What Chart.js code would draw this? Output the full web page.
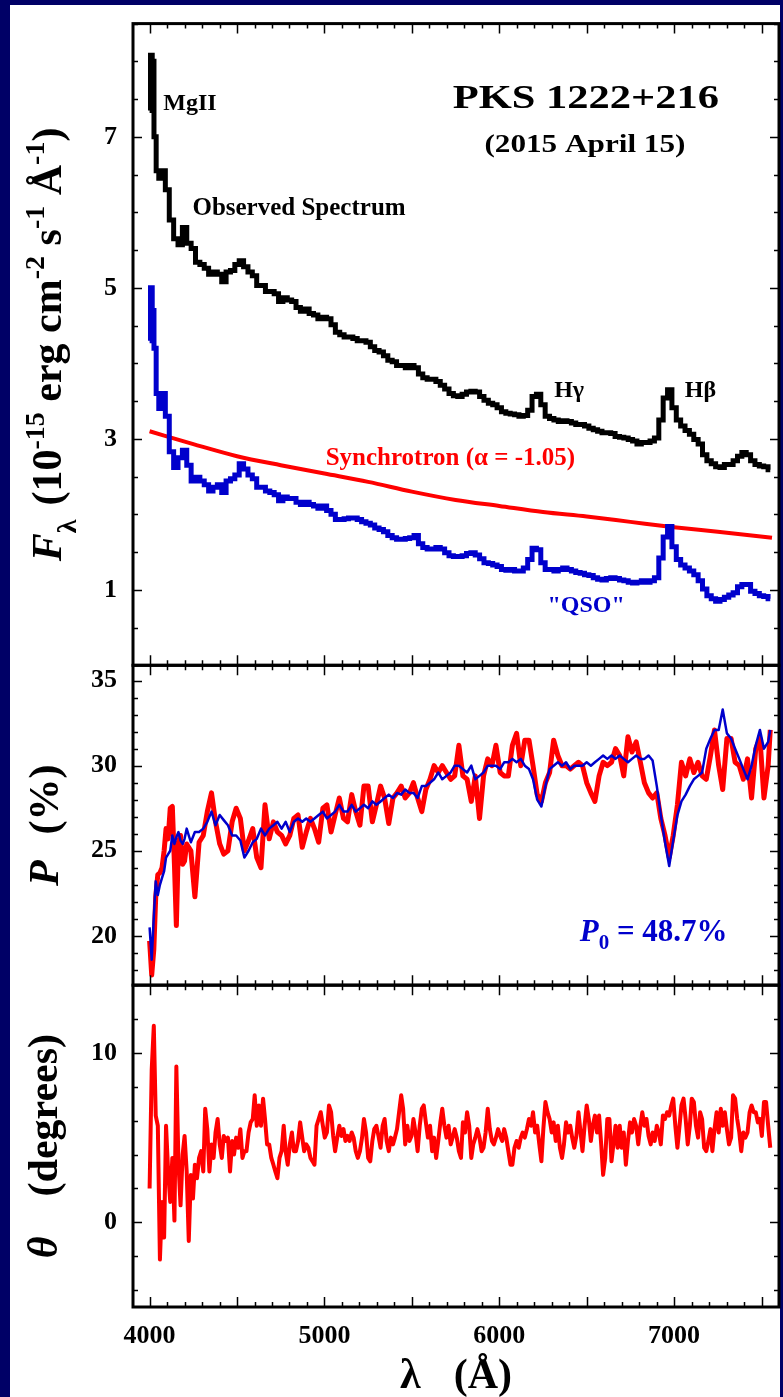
<!DOCTYPE html>
<html>
<head>
<meta charset="utf-8">
<script src="https://cdn.jsdelivr.net/npm/chart.js@4.4.0/dist/chart.umd.min.js"></script>
<style>
  html, body { margin: 0; padding: 0; background: #000066; }
  #wrap { position: relative; width: 783px; height: 1397px; }
  canvas { display: block; }
</style>
</head>
<body>
<div id="wrap"><canvas id="chart" width="783" height="1397"></canvas></div>
<script>
// ---- data ----
const waveTicks = [4000, 5000, 6000, 7000];
const fluxTicks = [1, 3, 5, 7];
const polTicks = [20, 25, 30, 35];
const thetaTicks = [0, 10];

// top panel: observed spectrum and "QSO" component (10^-15 erg/cm2/s/A)
const waveTop = [4000, 4010, 4020, 4030, 4045, 4060, 4080, 4100,
  4125, 4150, 4175, 4200, 4225, 4250, 4275, 4300, 4325, 4350, 4375, 4400, 4425, 4450, 4475, 4500,
  4525, 4550, 4575, 4600, 4625, 4650, 4675, 4700, 4725, 4750, 4775, 4800, 4825, 4850, 4875, 4900,
  4925, 4950, 4975, 5000, 5025, 5050, 5075, 5100, 5125, 5150, 5175, 5200, 5225, 5250, 5275, 5300,
  5325, 5350, 5375, 5400, 5425, 5450, 5475, 5500, 5525, 5550, 5575, 5600, 5625, 5650, 5675, 5700,
  5725, 5750, 5775, 5800, 5825, 5850, 5875, 5900, 5925, 5950, 5975, 6000, 6025, 6050, 6075, 6100,
  6125, 6150, 6175, 6200, 6225, 6250, 6275, 6300, 6325, 6350, 6375, 6400, 6425, 6450, 6475, 6500,
  6525, 6550, 6575, 6600, 6625, 6650, 6675, 6700, 6725, 6750, 6775, 6800, 6825, 6850, 6875, 6900,
  6925, 6950, 6975, 7000, 7025, 7050, 7075, 7100, 7125, 7150, 7175, 7200, 7225, 7250, 7275, 7300,
  7325, 7350, 7375, 7400, 7425, 7450, 7475, 7500, 7525, 7550];
const fluxObs = [7.35, 8.08, 8.0, 7.0, 6.55, 6.45, 6.55, 6.3,
  5.90, 5.65, 5.57, 5.80, 5.59, 5.52, 5.34, 5.31, 5.26, 5.18, 5.21, 5.18, 5.08, 5.21, 5.23, 5.31,
  5.36, 5.28, 5.21, 5.16, 5.03, 5.03, 4.95, 4.95, 4.92, 4.82, 4.87, 4.84, 4.82, 4.74, 4.69, 4.72,
  4.66, 4.64, 4.59, 4.61, 4.59, 4.51, 4.41, 4.38, 4.35, 4.35, 4.33, 4.30, 4.30, 4.28, 4.22, 4.17,
  4.15, 4.10, 4.04, 4.02, 3.97, 3.97, 3.94, 3.97, 3.94, 3.86, 3.81, 3.79, 3.79, 3.76, 3.71, 3.66,
  3.60, 3.57, 3.56, 3.59, 3.62, 3.63, 3.62, 3.56, 3.51, 3.47, 3.45, 3.41, 3.36, 3.34, 3.33, 3.32,
  3.30, 3.31, 3.38, 3.56, 3.59, 3.45, 3.30, 3.27, 3.25, 3.23, 3.24, 3.23, 3.21, 3.19, 3.19, 3.17,
  3.14, 3.12, 3.10, 3.08, 3.08, 3.07, 3.03, 3.02, 3.01, 2.99, 2.97, 2.93, 2.95, 2.95, 2.97, 3.01,
  3.25, 3.54, 3.65, 3.41, 3.25, 3.17, 3.11, 3.06, 2.99, 2.93, 2.79, 2.71, 2.67, 2.63, 2.62, 2.66,
  2.66, 2.71, 2.77, 2.82, 2.79, 2.71, 2.66, 2.64, 2.63, 2.59];
const fluxQso = [4.3, 5.0, 4.7, 4.2, 3.6, 3.4, 3.6, 3.3,
  2.83, 2.62, 2.75, 2.85, 2.65, 2.44, 2.49, 2.44, 2.39, 2.31, 2.36, 2.39, 2.29, 2.44, 2.47, 2.52,
  2.67, 2.60, 2.52, 2.47, 2.36, 2.36, 2.31, 2.29, 2.26, 2.18, 2.23, 2.21, 2.21, 2.16, 2.13, 2.16,
  2.13, 2.11, 2.08, 2.11, 2.05, 2.00, 1.93, 1.93, 1.94, 1.95, 1.95, 1.93, 1.90, 1.88, 1.86, 1.82,
  1.80, 1.77, 1.72, 1.69, 1.67, 1.67, 1.68, 1.69, 1.72, 1.61, 1.56, 1.54, 1.54, 1.56, 1.54, 1.49,
  1.45, 1.44, 1.44, 1.45, 1.48, 1.49, 1.46, 1.41, 1.36, 1.35, 1.33, 1.31, 1.27, 1.26, 1.27, 1.25,
  1.25, 1.29, 1.40, 1.55, 1.53, 1.36, 1.27, 1.27, 1.25, 1.27, 1.29, 1.27, 1.25, 1.23, 1.22, 1.20,
  1.19, 1.16, 1.14, 1.13, 1.15, 1.16, 1.15, 1.13, 1.12, 1.10, 1.09, 1.10, 1.12, 1.10, 1.12, 1.16,
  1.42, 1.70, 1.84, 1.57, 1.40, 1.33, 1.29, 1.25, 1.20, 1.12, 1.01, 0.92, 0.88, 0.85, 0.87, 0.90,
  0.93, 0.96, 1.04, 1.07, 1.07, 0.98, 0.95, 0.92, 0.91, 0.88];

// synchrotron component (alpha = -1.05)
const waveSync = [4000, 4250, 4500, 4750, 5000, 5250, 5500, 5750, 6000, 6250, 6500, 6750, 7000, 7250, 7560];
const fluxSync = [3.10, 2.93, 2.77, 2.65, 2.54, 2.43, 2.30, 2.19, 2.11, 2.03, 1.97, 1.90, 1.83, 1.77, 1.69];

// middle panel: polarization (%)
const wavePol = [4000, 4012, 4024, 4035, 4047, 4059, 4071, 4083, 4094, 4106, 4118, 4130, 4142, 4153,
  4165, 4177, 4189, 4200, 4212, 4236, 4259, 4283, 4307, 4330, 4354, 4377, 4401, 4424, 4448, 4472,
  4495, 4519, 4542, 4566, 4590, 4613, 4637, 4660, 4684, 4708, 4731, 4755, 4778, 4802, 4825, 4849,
  4873, 4896, 4920, 4943, 4967, 4991, 5014, 5038, 5061, 5085, 5109, 5132, 5156, 5179, 5203, 5226,
  5250, 5274, 5297, 5321, 5344, 5368, 5392, 5415, 5439, 5462, 5486, 5509, 5533, 5557, 5580, 5604,
  5627, 5651, 5674, 5698, 5722, 5745, 5769, 5792, 5816, 5840, 5863, 5887, 5910, 5934, 5958, 5981,
  6005, 6028, 6052, 6075, 6099, 6123, 6146, 6170, 6193, 6217, 6241, 6264, 6288, 6311, 6335, 6359,
  6382, 6406, 6429, 6453, 6476, 6500, 6524, 6547, 6571, 6594, 6618, 6642, 6665, 6689, 6712, 6736,
  6759, 6783, 6807, 6830, 6854, 6877, 6901, 6924, 6948, 6972, 6995, 7019, 7042, 7066, 7090, 7113,
  7137, 7160, 7184, 7208, 7231, 7255, 7278, 7302, 7326, 7349, 7373, 7396, 7420, 7443, 7467, 7491,
  7514, 7538, 7550];
const polObs = [19.7, 17.7, 19.2, 22.3, 23.6, 23.7, 24.0, 25.0, 26.3, 25.7, 27.5, 27.6, 24.2, 20.6,
  25.5, 25.9, 24.2, 24.4, 25.4, 25.0, 22.3, 25.5, 25.9, 27.3, 28.4, 26.7, 25.4, 24.8, 25.0, 26.7,
  27.5, 26.9, 25.0, 25.6, 26.3, 24.6, 24.0, 27.7, 25.7, 26.7, 26.1, 25.9, 25.4, 25.9, 26.9, 27.1,
  25.2, 26.1, 26.9, 26.3, 25.5, 27.5, 27.7, 26.1, 27.1, 28.1, 26.9, 26.7, 28.3, 27.3, 26.5, 28.8,
  28.8, 26.7, 27.7, 28.8, 28.1, 26.6, 28.1, 28.4, 28.8, 28.1, 28.4, 29.0, 28.1, 27.3, 28.6, 29.2,
  30.0, 29.6, 30.0, 29.6, 29.2, 29.4, 31.2, 29.4, 29.2, 27.9, 29.4, 26.9, 29.4, 30.4, 30.0, 31.2,
  29.6, 29.4, 29.4, 31.2, 31.9, 30.0, 31.5, 31.5, 30.0, 28.3, 27.9, 29.0, 29.6, 31.5, 30.6, 30.0,
  30.0, 29.8, 30.0, 30.2, 30.0, 29.0, 28.4, 27.9, 29.4, 30.2, 30.0, 30.2, 31.0, 30.6, 29.4, 31.7,
  30.8, 31.4, 30.2, 29.0, 28.4, 28.1, 28.4, 26.9, 25.9, 24.6, 25.9, 27.7, 30.2, 29.4, 30.4, 29.6,
  30.2, 29.4, 29.2, 30.6, 32.1, 30.0, 28.6, 31.6, 31.6, 30.2, 30.0, 29.2, 30.4, 28.1, 31.0, 31.6,
  28.1, 30.0, 32.1];
const polQso = [20.5, 18.6, 21.1, 23.2, 22.4, 23.0, 23.4, 23.8, 24.6, 24.8, 25.0, 25.9, 25.4, 25.8,
  26.1, 25.6, 25.4, 25.7, 26.3, 25.5, 26.1, 26.1, 26.3, 26.7, 27.3, 26.5, 27.1, 26.8, 26.5, 25.9,
  25.9, 25.6, 24.6, 25.0, 25.5, 25.7, 26.3, 25.9, 26.3, 26.5, 26.7, 26.3, 26.7, 26.1, 26.7, 26.9,
  26.7, 26.9, 26.7, 26.9, 27.1, 27.3, 26.9, 27.1, 27.3, 27.7, 27.3, 27.3, 27.7, 27.3, 27.5, 27.7,
  27.5, 27.9, 27.7, 27.9, 28.1, 28.3, 28.1, 28.4, 28.3, 28.6, 28.4, 28.4, 28.1, 28.8, 28.8, 29.0,
  29.2, 29.6, 29.2, 29.4, 29.6, 30.0, 30.0, 29.8, 29.6, 30.0, 29.2, 29.4, 29.6, 30.0, 30.0, 30.0,
  29.8, 30.2, 30.2, 30.4, 30.2, 30.4, 30.0, 29.8, 29.2, 28.0, 27.6, 28.8, 29.8, 30.0, 30.2, 30.0,
  30.2, 29.8, 30.0, 30.0, 30.0, 30.2, 30.0, 30.2, 30.4, 30.6, 30.4, 30.6, 30.4, 30.6, 30.4, 30.2,
  30.4, 30.6, 30.4, 30.4, 30.6, 30.3, 28.8, 27.1, 25.5, 24.1, 25.6, 27.1, 27.9, 28.3, 28.8, 29.2,
  29.4, 29.6, 31.0, 31.6, 32.1, 32.1, 33.3, 31.9, 31.6, 31.0, 30.4, 29.8, 29.2, 30.0, 31.2, 32.1,
  31.0, 31.4, 32.1];

// bottom panel: position angle (degrees)
const waveTheta = [4000, 4012, 4024, 4035, 4047, 4059, 4071, 4083, 4094, 4106,
  4118, 4130, 4142, 4153, 4165, 4177, 4189, 4200, 4212, 4224,
  4236, 4248, 4259, 4271, 4283, 4295, 4307, 4318, 4330, 4342,
  4354, 4366, 4377, 4389, 4401, 4413, 4424, 4436, 4448, 4460,
  4472, 4483, 4495, 4507, 4519, 4531, 4542, 4554, 4566, 4578,
  4590, 4601, 4613, 4625, 4637, 4649, 4660, 4672, 4684, 4696,
  4708, 4719, 4731, 4743, 4755, 4767, 4778, 4790, 4802, 4814,
  4825, 4837, 4849, 4861, 4873, 4884, 4896, 4908, 4920, 4932,
  4943, 4955, 4967, 4979, 4991, 5002, 5014, 5026, 5038, 5050,
  5061, 5073, 5085, 5097, 5109, 5120, 5132, 5144, 5156, 5167,
  5179, 5191, 5203, 5215, 5226, 5238, 5250, 5262, 5274, 5285,
  5297, 5309, 5321, 5333, 5344, 5356, 5368, 5380, 5392, 5403,
  5415, 5427, 5439, 5450, 5462, 5474, 5486, 5498, 5509, 5521,
  5533, 5545, 5557, 5568, 5580, 5592, 5604, 5616, 5627, 5639,
  5651, 5663, 5674, 5686, 5698, 5710, 5722, 5733, 5745, 5757,
  5769, 5781, 5792, 5804, 5816, 5828, 5840, 5851, 5863, 5875,
  5887, 5899, 5910, 5922, 5934, 5946, 5958, 5969, 5981, 5993,
  6005, 6017, 6028, 6040, 6052, 6064, 6075, 6087, 6099, 6111,
  6123, 6134, 6146, 6158, 6170, 6182, 6193, 6205, 6217, 6229,
  6241, 6252, 6264, 6276, 6288, 6300, 6311, 6323, 6335, 6347,
  6359, 6370, 6382, 6394, 6406, 6417, 6429, 6441, 6453, 6465,
  6476, 6488, 6500, 6512, 6524, 6535, 6547, 6559, 6571, 6583,
  6594, 6606, 6618, 6630, 6642, 6653, 6665, 6677, 6689, 6700,
  6712, 6724, 6736, 6748, 6759, 6771, 6783, 6795, 6807, 6818,
  6830, 6842, 6854, 6866, 6877, 6889, 6901, 6913, 6924, 6936,
  6948, 6960, 6972, 6984, 6995, 7007, 7019, 7031, 7042, 7054,
  7066, 7078, 7090, 7101, 7113, 7125, 7137, 7149, 7160, 7172,
  7184, 7196, 7208, 7219, 7231, 7243, 7255, 7267, 7278, 7290,
  7302, 7314, 7326, 7337, 7349, 7361, 7373, 7384, 7396, 7408,
  7420, 7432, 7443, 7455, 7467, 7479, 7491, 7502, 7514, 7526,
  7538, 7550];
const theta = [2.0, 9.0, 11.6, 6.3, 5.7, -2.2, 1.2, -0.9, 5.7, 3.0,
  1.2, 3.8, 0.1, 9.2, 3.5, 1.0, 4.0, 5.1, 3.0, -1.1,
  2.8, 1.4, 3.4, 2.6, 3.8, 4.2, 3.0, 6.7, 5.5, 3.0,
  4.6, 3.8, 5.3, 6.1, 4.6, 3.8, 5.1, 4.8, 5.0, 3.0,
  4.8, 4.0, 5.0, 4.4, 5.5, 3.8, 4.2, 4.2, 5.3, 5.9,
  6.1, 7.5, 5.7, 6.9, 5.7, 7.3, 6.1, 4.6, 4.6, 3.8,
  3.4, 3.0, 2.6, 3.8, 4.2, 5.7, 4.2, 3.4, 4.6, 5.3,
  4.2, 4.2, 4.8, 5.9, 5.0, 4.2, 4.6, 4.4, 3.8, 3.6,
  3.4, 5.7, 6.1, 6.5, 5.7, 5.0, 5.3, 6.9, 6.5, 5.1,
  4.2, 5.0, 5.7, 5.1, 5.5, 4.8, 5.1, 4.8, 5.3, 5.0,
  4.2, 3.8, 4.2, 5.0, 6.1, 5.3, 3.8, 3.6, 4.8, 5.5,
  5.7, 5.1, 4.4, 5.7, 6.1, 4.8, 4.2, 5.0, 4.6, 5.0,
  5.5, 6.5, 7.5, 6.7, 4.6, 5.7, 4.8, 5.1, 6.1, 5.3,
  4.2, 5.7, 6.7, 6.9, 5.9, 5.0, 5.7, 4.2, 5.0, 3.8,
  4.8, 5.9, 6.7, 5.7, 5.0, 5.7, 4.6, 5.0, 5.5, 5.0,
  4.2, 3.8, 5.9, 5.3, 6.5, 5.7, 3.8, 4.6, 5.0, 5.5,
  5.0, 4.2, 4.4, 5.3, 6.7, 5.5, 4.8, 4.6, 5.0, 5.5,
  5.1, 4.8, 5.5, 5.0, 4.2, 3.4, 3.4, 4.4, 4.8, 4.4,
  5.0, 5.3, 5.0, 5.5, 6.1, 5.7, 6.5, 5.3, 5.7, 4.6,
  3.6, 5.5, 7.1, 6.5, 6.1, 5.3, 5.9, 4.8, 5.7, 4.4,
  3.8, 4.6, 5.9, 5.3, 5.7, 5.0, 4.4, 5.1, 6.5, 5.3,
  4.2, 5.7, 6.9, 6.1, 4.8, 5.7, 6.3, 5.3, 6.3, 4.6,
  2.8, 3.8, 6.1, 6.1, 3.6, 4.6, 5.7, 4.4, 5.7, 4.4,
  5.3, 3.4, 4.8, 5.9, 5.3, 6.1, 5.7, 4.6, 5.7, 6.5,
  5.7, 6.1, 5.1, 4.6, 5.3, 4.8, 5.7, 5.3, 4.6, 6.3,
  6.1, 6.5, 6.3, 6.9, 7.3, 5.7, 4.4, 5.7, 6.9, 7.3,
  6.1, 4.6, 5.7, 7.3, 7.1, 5.7, 5.0, 6.5, 6.1, 4.4,
  4.2, 4.8, 5.5, 4.2, 5.5, 6.5, 5.3, 6.7, 5.7, 6.5,
  5.5, 4.6, 5.0, 7.5, 7.3, 6.1, 5.3, 4.2, 5.3, 5.0,
  5.3, 6.5, 6.9, 6.5, 6.5, 5.9, 6.1, 5.1, 7.1, 7.1,
  5.7, 4.4];

// ---- styling ----
const SERIF = '"Liberation Serif", "Times New Roman", serif';
const RED = '#ff0000';
const BLUE = '#0000cc';
const font = (size, style) => (style || 'bold') + ' ' + size + 'px ' + SERIF;

const pairs = (xs, ys) => xs.map((x, i) => ({ x: x, y: ys[i] }));

// text placed in data units of the panel it belongs to
const notes = [
  { axis: 'yF', wave: 4078, val: 7.36, color: '#000', pieces: [{ text: 'MgII', font: font(24) }] },
  { axis: 'yF', wave: 4245, val: 5.97, color: '#000', pieces: [{ text: 'Observed Spectrum', font: font(25) }] },
  { axis: 'yF', wave: 6495, val: 7.38, color: '#000', align: 'center', sx: 1.25, pieces: [{ text: 'PKS 1222+216', font: font(34) }] },
  { axis: 'yF', wave: 6490, val: 6.80, color: '#000', align: 'center', sx: 1.2, pieces: [{ text: '(2015 April 15)', font: font(26) }] },
  { axis: 'yF', wave: 6314, val: 3.55, color: '#000', pieces: [{ text: 'Hγ', font: font(24) }] },
  { axis: 'yF', wave: 7061, val: 3.55, color: '#000', pieces: [{ text: 'Hβ', font: font(24) }] },
  { axis: 'yF', wave: 5007, val: 2.65, color: RED, pieces: [{ text: 'Synchrotron (α = -1.05)', font: font(25) }] },
  { axis: 'yF', wave: 6276, val: 0.70, color: BLUE, pieces: [{ text: '"QSO"', font: font(24) }] },
  { axis: 'yP', wave: 6460, val: 19.67, color: BLUE, pieces: [
    { text: 'P', font: font(31, 'italic bold') },
    { text: '0', font: font(21), dy: 8 },
    { text: ' = 48.7%', font: font(31) }
  ] }
];

function drawPieces(ctx, pieces, x, y, opts) {
  ctx.save();
  ctx.translate(x, y);
  if (opts.rotate) ctx.rotate(-Math.PI / 2);
  if (opts.sx) ctx.scale(opts.sx, 1);
  let total = 0;
  pieces.forEach(p => { ctx.font = p.font; total += (p.gap || 0) + ctx.measureText(p.text).width; });
  let cx = opts.align === 'center' ? -total / 2 : 0;
  ctx.fillStyle = opts.color || '#000';
  ctx.textBaseline = 'alphabetic';
  ctx.textAlign = 'left';
  pieces.forEach(p => {
    ctx.font = p.font;
    cx += p.gap || 0;
    ctx.fillText(p.text, cx, p.dy || 0);
    cx += ctx.measureText(p.text).width;
  });
  ctx.restore();
}

const pageBackground = {
  id: 'pageBackground',
  beforeDraw(chart) {
    const ctx = chart.ctx;
    ctx.save();
    ctx.fillStyle = '#ffffff';
    ctx.fillRect(10, 5, 770, chart.height - 5);
    ctx.restore();
  }
};

// frame, inward ticks on all four sides, annotations and axis titles
const decorations = {
  id: 'decorations',
  afterDatasetsDraw(chart) {
    const { ctx, scales, chartArea } = chart;
    const xs = scales.x;
    const left = chartArea.left;
    const right = chartArea.right;
    const panels = [
      { s: scales.yF, minor: 0.5, major: fluxTicks },
      { s: scales.yP, minor: 1, major: polTicks },
      { s: scales.yT, minor: 2, major: thetaTicks }
    ];

    ctx.save();
    ctx.strokeStyle = '#000';
    ctx.lineWidth = 1.5;
    ctx.beginPath();
    panels.forEach(({ s, minor, major }) => {
      for (let w = 4000; w <= 7500; w += 100) {
        const px = Math.round(xs.getPixelForValue(w)) + 0.5;
        const len = w % 500 === 0 ? 10 : 5;
        ctx.moveTo(px, s.top); ctx.lineTo(px, s.top + len);
        ctx.moveTo(px, s.bottom); ctx.lineTo(px, s.bottom - len);
      }
      for (let v = Math.ceil(s.min / minor) * minor; v <= s.max; v += minor) {
        const py = Math.round(s.getPixelForValue(v)) + 0.5;
        const len = major.includes(v) ? 9 : 5;
        ctx.moveTo(left, py); ctx.lineTo(left + len, py);
        ctx.moveTo(right, py); ctx.lineTo(right - len, py);
      }
    });
    ctx.stroke();

    ctx.lineWidth = 3;
    panels.forEach(({ s }) => {
      ctx.strokeRect(left, s.top, right - left, s.bottom - s.top);
    });
    ctx.restore();

    notes.forEach(n => {
      drawPieces(ctx, n.pieces, xs.getPixelForValue(n.wave), scales[n.axis].getPixelForValue(n.val),
        { align: n.align, sx: n.sx, color: n.color });
    });

    // axis titles
    const mid = s => (s.top + s.bottom) / 2;
    drawPieces(ctx, [
      { text: 'F', font: font(42, 'italic bold') },
      { text: 'λ', font: font(28), dy: 15 },
      { text: '(10', font: font(42), gap: 14 },
      { text: '-15', font: font(28), dy: -17 },
      { text: ' erg cm', font: font(42) },
      { text: '-2', font: font(28), dy: -17 },
      { text: ' s', font: font(42) },
      { text: '-1', font: font(28), dy: -17 },
      { text: ' Å', font: font(42) },
      { text: '-1', font: font(28), dy: -17 },
      { text: ')', font: font(42) }
    ], 61, mid(scales.yF), { rotate: true, align: 'center' });
    drawPieces(ctx, [
      { text: 'P', font: font(42, 'italic bold') },
      { text: '(%)', font: font(42), gap: 26 }
    ], 58, mid(scales.yP), { rotate: true, align: 'center' });
    drawPieces(ctx, [
      { text: 'θ', font: font(42, 'italic bold') },
      { text: '(degrees)', font: font(42), gap: 40 }
    ], 57, mid(scales.yT), { rotate: true, align: 'center' });
    drawPieces(ctx, [
      { text: 'λ', font: font(42) },
      { text: '(Å)', font: font(42), gap: 33 }
    ], (left + right) / 2, 1388, { align: 'center' });
  }
};

const tickFont = { family: SERIF, size: 26, weight: 'bold' };

const yAxis = (min, max, weight, ticks) => ({
  type: 'linear',
  position: 'left',
  stack: 'panels',
  stackWeight: weight,
  min: min,
  max: max,
  grid: { display: false },
  border: { display: false },
  ticks: { color: '#000', font: tickFont, padding: 8, callback: v => String(v) },
  afterBuildTicks: scale => { scale.ticks = ticks.map(v => ({ value: v })); },
  afterFit: scale => { scale.width = 133; }
});

new Chart(document.getElementById('chart'), {
  type: 'line',
  data: {
    datasets: [
      { label: 'QSO', yAxisID: 'yF', data: pairs(waveTop, fluxQso), borderColor: BLUE, borderWidth: 5, stepped: 'middle' },
      { label: 'Synchrotron', yAxisID: 'yF', data: pairs(waveSync, fluxSync), borderColor: RED, borderWidth: 4, cubicInterpolationMode: 'monotone' },
      { label: 'Observed', yAxisID: 'yF', data: pairs(waveTop, fluxObs), borderColor: '#000', borderWidth: 5, stepped: 'middle' },
      { label: 'P QSO', yAxisID: 'yP', data: pairs(wavePol, polQso), borderColor: BLUE, borderWidth: 2.5, borderJoinStyle: 'round' },
      { label: 'P observed', yAxisID: 'yP', data: pairs(wavePol, polObs), borderColor: RED, borderWidth: 5, borderJoinStyle: 'round' },
      { label: 'theta', yAxisID: 'yT', data: pairs(waveTheta, theta), borderColor: RED, borderWidth: 4, borderJoinStyle: 'round' }
    ]
  },
  options: {
    responsive: false,
    animation: false,
    devicePixelRatio: 1,
    layout: { padding: { top: 11, right: 4, left: 0, bottom: 0 } },
    elements: { point: { radius: 0 }, line: { fill: false } },
    plugins: { legend: { display: false }, tooltip: { enabled: false } },
    scales: {
      x: {
        type: 'linear',
        position: 'bottom',
        min: 3905,
        max: 7600,
        grid: { display: false },
        border: { display: false },
        ticks: { color: '#000', font: tickFont, padding: 6, autoSkip: false, maxRotation: 0, callback: v => String(v) },
        afterBuildTicks: scale => { scale.ticks = waveTicks.map(v => ({ value: v })); },
        afterFit: scale => { scale.height = 90; }
      },
      yT: yAxis(-5, 14, 325, thetaTicks),
      yP: yAxis(17.1, 35.9, 323, polTicks),
      yF: yAxis(0, 8.5, 648, fluxTicks)
    }
  },
  plugins: [pageBackground, decorations]
});
</script>
</body>
</html>
